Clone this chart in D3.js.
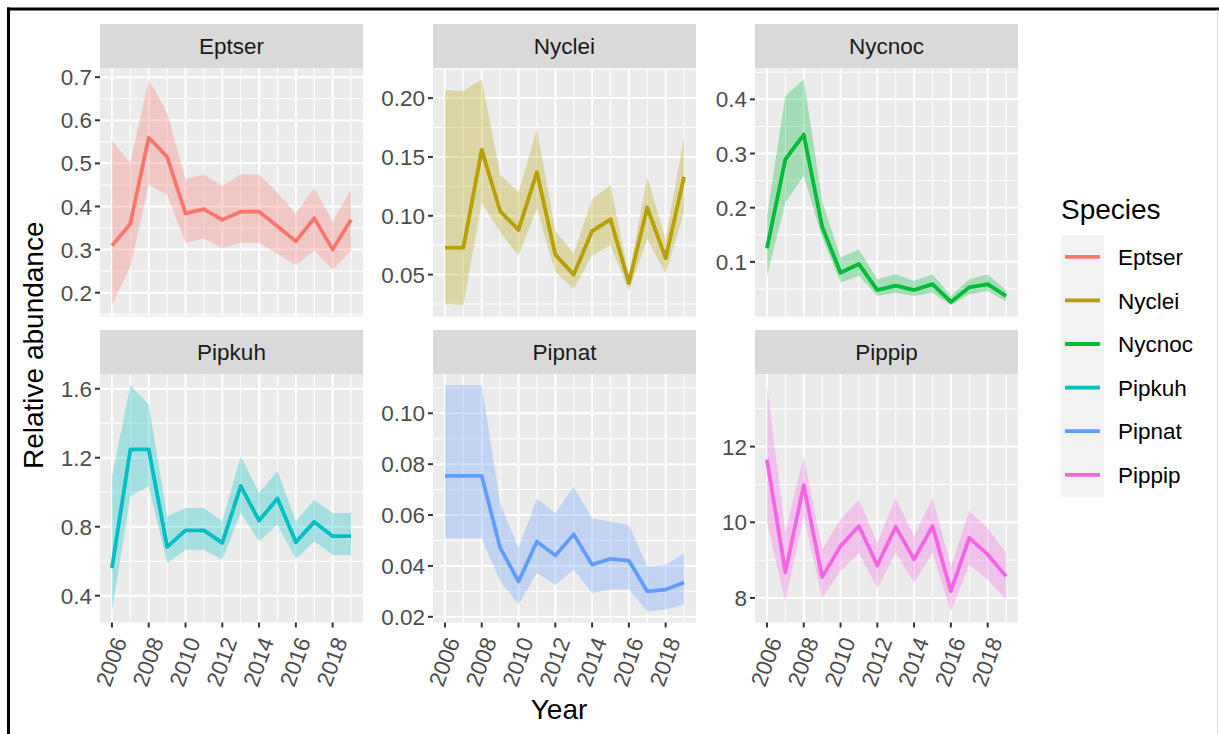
<!DOCTYPE html>
<html>
<head>
<meta charset="utf-8">
<script src="https://cdn.jsdelivr.net/npm/d3@7"></script>
<style>
  body { margin: 0; background: #fff; }
  svg { display: block; font-family: 'Liberation Sans', Arial, sans-serif; }
</style>
</head>
<body>
<div id="chart"></div>
<script>
'use strict';

var years = [2006, 2007, 2008, 2009, 2010, 2011, 2012, 2013, 2014, 2015, 2016, 2017, 2018, 2019];
var yearTicks = [2006, 2008, 2010, 2012, 2014, 2016, 2018];
var species = ['Eptser', 'Nyclei', 'Nycnoc', 'Pipkuh', 'Pipnat', 'Pippip'];
var palette = ['#F8766D', '#B79F00', '#00BA38', '#00BFC4', '#619CFF', '#F564E3'];

var eptserMean  = [0.309, 0.360, 0.560, 0.515, 0.384, 0.394, 0.369, 0.388, 0.388, 0.354, 0.319, 0.373, 0.300, 0.369];
var eptserLower = [0.171, 0.260, 0.450, 0.427, 0.315, 0.326, 0.303, 0.316, 0.316, 0.290, 0.264, 0.298, 0.253, 0.298];
var eptserUpper = [0.553, 0.501, 0.695, 0.617, 0.464, 0.474, 0.448, 0.474, 0.474, 0.431, 0.384, 0.443, 0.365, 0.440];

var nycleiMean  = [0.073, 0.073, 0.156, 0.104, 0.088, 0.137, 0.067, 0.050, 0.087, 0.097, 0.043, 0.107, 0.064, 0.133];
var nycleiLower = [0.025, 0.024, 0.111, 0.086, 0.066, 0.106, 0.052, 0.038, 0.066, 0.075, 0.036, 0.080, 0.051, 0.103];
var nycleiUpper = [0.207, 0.206, 0.216, 0.135, 0.120, 0.174, 0.087, 0.068, 0.114, 0.126, 0.049, 0.133, 0.080, 0.167];

var nycnocMean  = [0.125, 0.289, 0.335, 0.165, 0.080, 0.096, 0.048, 0.056, 0.048, 0.059, 0.026, 0.053, 0.059, 0.037];
var nycnocLower = [0.074, 0.209, 0.259, 0.145, 0.062, 0.074, 0.037, 0.043, 0.037, 0.043, 0.020, 0.040, 0.046, 0.027];
var nycnocUpper = [0.185, 0.406, 0.437, 0.212, 0.108, 0.123, 0.068, 0.077, 0.065, 0.077, 0.037, 0.068, 0.077, 0.048];

var pipkuhMean  = [0.561, 1.248, 1.248, 0.683, 0.779, 0.779, 0.706, 1.035, 0.836, 0.963, 0.710, 0.828, 0.745, 0.745];
var pipkuhLower = [0.310, 0.977, 1.035, 0.590, 0.667, 0.667, 0.609, 0.880, 0.716, 0.812, 0.613, 0.716, 0.636, 0.636];
var pipkuhUpper = [1.093, 1.620, 1.509, 0.861, 0.909, 0.909, 0.832, 1.209, 0.996, 1.122, 0.832, 0.957, 0.880, 0.880];

var pipnatMean  = [0.0754, 0.0754, 0.0754, 0.0472, 0.0339, 0.0496, 0.0441, 0.0524, 0.0405, 0.0428, 0.0421, 0.0300, 0.0307, 0.0335];
var pipnatLower = [0.0509, 0.0509, 0.0509, 0.0340, 0.0248, 0.0372, 0.0326, 0.0385, 0.0294, 0.0307, 0.0307, 0.0222, 0.0229, 0.0248];
var pipnatUpper = [0.1110, 0.1110, 0.1110, 0.0646, 0.0470, 0.0665, 0.0607, 0.0711, 0.0587, 0.0574, 0.0561, 0.0398, 0.0405, 0.0450];

var pippipMean  = [11.66, 8.68, 10.98, 8.55, 9.37, 9.90, 8.86, 9.88, 9.02, 9.90, 8.18, 9.59, 9.15, 8.57];
var pippipLower = [9.99, 7.91, 10.16, 8.00, 8.71, 9.19, 8.26, 9.19, 8.40, 9.19, 7.65, 8.88, 8.48, 7.96];
var pippipUpper = [13.62, 9.72, 11.75, 9.28, 10.08, 10.60, 9.46, 10.65, 9.63, 10.65, 8.84, 10.30, 9.85, 9.19];

// tick labels as printed on each panel's y axis
var eptserTicks = ['0.2', '0.3', '0.4', '0.5', '0.6', '0.7'];
var nycleiTicks = ['0.05', '0.10', '0.15', '0.20'];
var nycnocTicks = ['0.1', '0.2', '0.3', '0.4'];
var pipkuhTicks = ['0.4', '0.8', '1.2', '1.6'];
var pipnatTicks = ['0.02', '0.04', '0.06', '0.08', '0.10'];
var pippipTicks = ['8', '10', '12'];

var panels = [
  { name: species[0], mean: eptserMean, lower: eptserLower, upper: eptserUpper, ticks: eptserTicks },
  { name: species[1], mean: nycleiMean, lower: nycleiLower, upper: nycleiUpper, ticks: nycleiTicks },
  { name: species[2], mean: nycnocMean, lower: nycnocLower, upper: nycnocUpper, ticks: nycnocTicks },
  { name: species[3], mean: pipkuhMean, lower: pipkuhLower, upper: pipkuhUpper, ticks: pipkuhTicks },
  { name: species[4], mean: pipnatMean, lower: pipnatLower, upper: pipnatUpper, ticks: pipnatTicks },
  { name: species[5], mean: pippipMean, lower: pippipLower, upper: pippipUpper, ticks: pippipTicks }
];

var width = 1219, height = 734;
var colX = [100, 433, 755];
var rowY = [68, 374];
var panelW = 263, panelH = 248.5, stripH = 44;
var tickFont = 22.5, titleFont = 28;

var svg = d3.select('#chart')
  .append('svg')
  .attr('width', width)
  .attr('height', height);

svg.append('rect').attr('width', width).attr('height', height).attr('fill', '#fff');

// expanded like ggplot (5% each side)
var expand = function(ext){
  var pad = (ext[1] - ext[0]) * 0.05;
  return [ext[0] - pad, ext[1] + pad];
};

var x = d3.scaleLinear()
  .domain(expand(d3.extent(years)))
  .range([0, panelW]);

var xMinor = years.filter(function(yr){ return yearTicks.indexOf(yr) < 0; });

panels.forEach(function(p, i){
  var col = i % 3, row = Math.floor(i / 3);
  var g = svg.append('g').attr('transform', 'translate(' + colX[col] + ',' + rowY[row] + ')');
  var colour = palette[i];

  var y = d3.scaleLinear()
    .domain(expand([d3.min(p.lower), d3.max(p.upper)]))
    .range([panelH, 0]);

  var major = p.ticks.map(Number);
  var step = major[1] - major[0];
  var minor = [major[0] - step / 2].concat(major.map(function(v){ return v + step / 2; }))
    .filter(function(v){ return v >= y.domain()[0] && v <= y.domain()[1]; });

  g.append('rect')
    .attr('width', panelW)
    .attr('height', panelH)
    .attr('fill', '#EBEBEB');

  // minor grid
  g.selectAll('.ymin').data(minor).enter().append('line')
    .attr('x1', 0).attr('x2', panelW)
    .attr('y1', function(d){ return y(d); }).attr('y2', function(d){ return y(d); })
    .attr('stroke', '#fff').attr('stroke-width', 1);
  g.selectAll('.xmin').data(xMinor).enter().append('line')
    .attr('y1', 0).attr('y2', panelH)
    .attr('x1', function(d){ return x(d); }).attr('x2', function(d){ return x(d); })
    .attr('stroke', '#fff').attr('stroke-width', 1);

  // major grid
  g.selectAll('.ymaj').data(major).enter().append('line')
    .attr('x1', 0).attr('x2', panelW)
    .attr('y1', function(d){ return y(d); }).attr('y2', function(d){ return y(d); })
    .attr('stroke', '#fff').attr('stroke-width', 2);
  g.selectAll('.xmaj').data(yearTicks).enter().append('line')
    .attr('y1', 0).attr('y2', panelH)
    .attr('x1', function(d){ return x(d); }).attr('x2', function(d){ return x(d); })
    .attr('stroke', '#fff').attr('stroke-width', 2);

  var rows = years.map(function(yr, k){
    return { year: yr, mean: p.mean[k], lower: p.lower[k], upper: p.upper[k] };
  });

  var area = d3.area()
    .x(function(d){ return x(d.year); })
    .y0(function(d){ return y(d.lower); })
    .y1(function(d){ return y(d.upper); });

  var line = d3.line()
    .x(function(d){ return x(d.year); })
    .y(function(d){ return y(d.mean); });

  g.append('path')
    .attr('d', area(rows))
    .attr('fill', colour)
    .attr('fill-opacity', 0.3);

  g.append('path')
    .attr('d', line(rows))
    .attr('fill', 'none')
    .attr('stroke', colour)
    .attr('stroke-width', 3.8)
    .attr('stroke-linejoin', 'round');

  // strip
  g.append('rect')
    .attr('y', -stripH)
    .attr('width', panelW)
    .attr('height', stripH)
    .attr('fill', '#D9D9D9');
  g.append('text')
    .attr('x', panelW / 2)
    .attr('y', -stripH / 2)
    .attr('dy', '0.36em')
    .attr('text-anchor', 'middle')
    .attr('font-size', tickFont)
    .attr('fill', '#1A1A1A')
    .text(p.name);

  // y axis
  var ya = g.append('g');
  ya.selectAll('line').data(major).enter().append('line')
    .attr('x1', -5).attr('x2', 0)
    .attr('y1', function(d){ return y(d); }).attr('y2', function(d){ return y(d); })
    .attr('stroke', '#333').attr('stroke-width', 2);
  ya.selectAll('text').data(p.ticks).enter().append('text')
    .attr('x', -8)
    .attr('y', function(d){ return y(+d); })
    .attr('dy', '0.36em')
    .attr('text-anchor', 'end')
    .attr('font-size', tickFont)
    .attr('fill', '#4D4D4D')
    .text(function(d){ return d; });

  // x axis only on bottom row
  if (row === 1){
    var xa = g.append('g').attr('transform', 'translate(0,' + panelH + ')');
    xa.selectAll('line').data(yearTicks).enter().append('line')
      .attr('x1', function(d){ return x(d); }).attr('x2', function(d){ return x(d); })
      .attr('y1', 0).attr('y2', 5)
      .attr('stroke', '#333').attr('stroke-width', 2);
    xa.selectAll('text').data(yearTicks).enter().append('text')
      .attr('transform', function(d){ return 'translate(' + x(d) + ',13) rotate(-70)'; })
      .attr('dy', '0.72em')
      .attr('text-anchor', 'end')
      .attr('font-size', tickFont)
      .attr('fill', '#4D4D4D')
      .text(function(d){ return d; });
  }
});

// axis titles
svg.append('text')
  .attr('x', (colX[0] + colX[2] + panelW) / 2)
  .attr('y', 719)
  .attr('text-anchor', 'middle')
  .attr('font-size', titleFont)
  .text('Year');

svg.append('text')
  .attr('transform', 'translate(43,' + ((rowY[0] + rowY[1] + panelH) / 2) + ') rotate(-90)')
  .attr('text-anchor', 'middle')
  .attr('font-size', titleFont)
  .text('Relative abundance');

// legend
var legend = svg.append('g').attr('transform', 'translate(1061,235)');
var keyH = 43.6, keyW = 43;
legend.append('text')
  .attr('x', 0)
  .attr('y', -16)
  .attr('font-size', titleFont)
  .text('Species');
legend.append('rect')
  .attr('width', keyW)
  .attr('height', keyH * species.length)
  .attr('fill', '#F2F2F2');
var item = legend.selectAll('.item').data(species).enter().append('g')
  .attr('transform', function(d, i){ return 'translate(0,' + (i * keyH + keyH / 2) + ')'; });
item.append('line')
  .attr('x1', 4).attr('x2', keyW - 4)
  .attr('stroke', function(d, i){ return palette[i]; })
  .attr('stroke-width', 3.8);
item.append('text')
  .attr('x', 57)
  .attr('dy', '0.36em')
  .attr('font-size', tickFont)
  .attr('fill', '#000')
  .text(function(d){ return d; });

// frame of the original picture
svg.append('line').attr('x1', 7).attr('x2', width).attr('y1', 9).attr('y2', 9)
  .attr('stroke', '#000').attr('stroke-width', 3);
svg.append('line').attr('x1', 8.5).attr('x2', 8.5).attr('y1', 7.5).attr('y2', height)
  .attr('stroke', '#000').attr('stroke-width', 3);
svg.append('line').attr('x1', 1217.5).attr('x2', 1217.5).attr('y1', 10).attr('y2', height)
  .attr('stroke', '#DDD').attr('stroke-width', 1);
</script>
</body>
</html>
